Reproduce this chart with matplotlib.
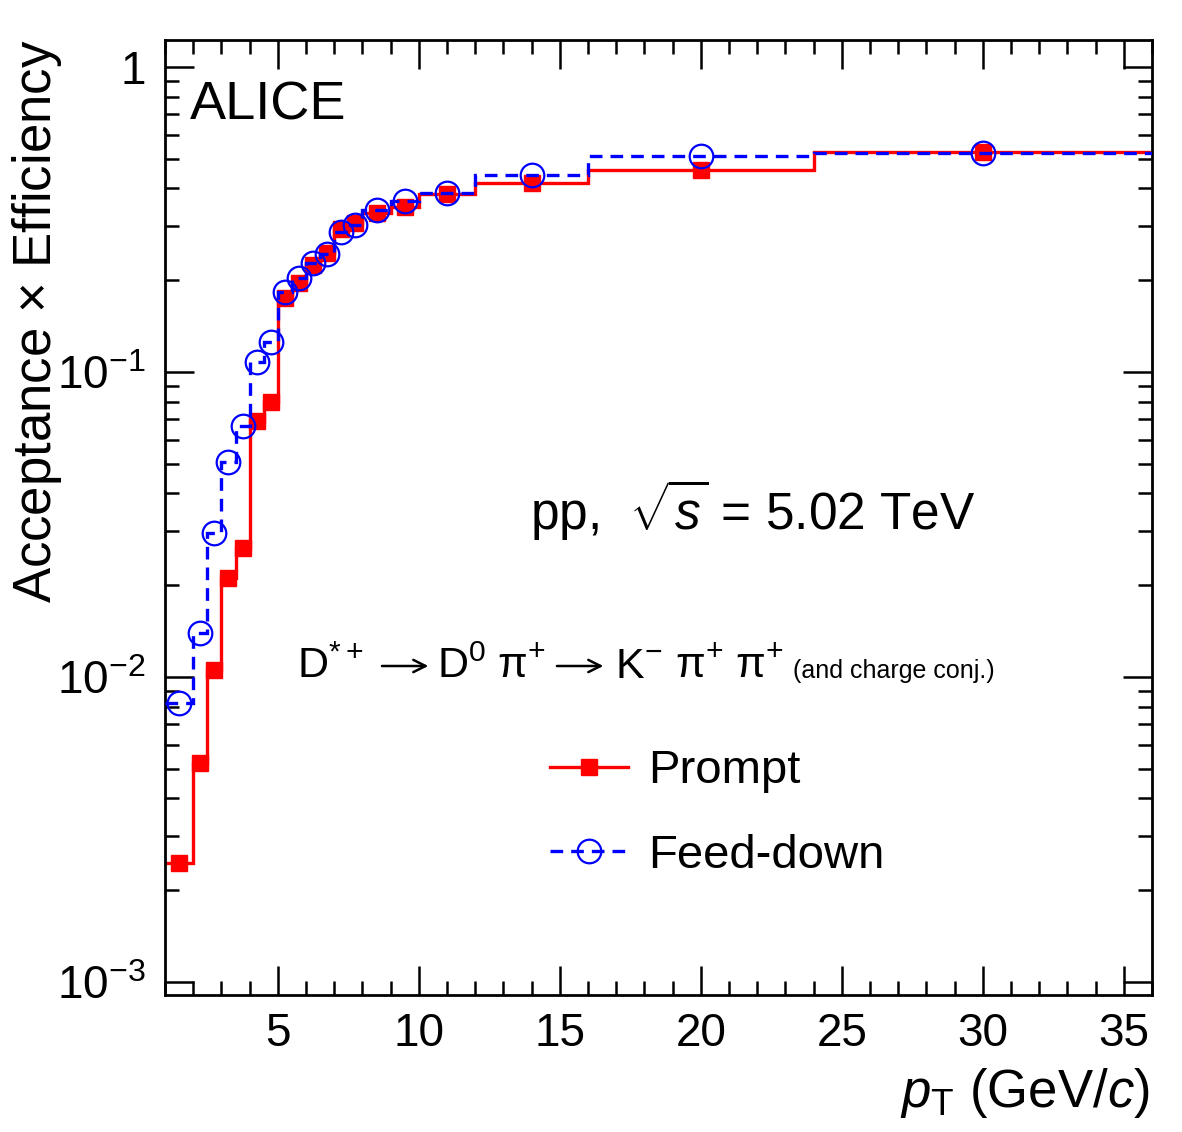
import numpy as np
import matplotlib
matplotlib.use("Agg")
import matplotlib.pyplot as plt
from matplotlib.ticker import FixedLocator, MultipleLocator, LogLocator, NullFormatter

plt.rcParams["font.family"] = ["Liberation Sans", "DejaVu Sans"]
plt.rcParams["mathtext.fontset"] = "custom"
plt.rcParams["mathtext.rm"] = "Liberation Sans"
plt.rcParams["mathtext.it"] = "Liberation Sans:italic"
plt.rcParams["mathtext.bf"] = "Liberation Sans:bold"

# pT bin edges (GeV/c) and acceptance x efficiency per bin
edges = [1, 2, 2.5, 3, 3.5, 4, 4.5, 5, 5.5, 6, 6.5, 7, 7.5, 8, 9, 10, 12, 16, 24, 36]
prompt = [0.00246, 0.00522, 0.0105, 0.0211, 0.0265, 0.069, 0.080, 0.175, 0.196,
          0.224, 0.245, 0.294, 0.308, 0.332, 0.347, 0.382, 0.417, 0.459, 0.526]
feeddown = [0.00822, 0.0139, 0.0297, 0.0507, 0.0665, 0.108, 0.125, 0.183, 0.203,
            0.228, 0.244, 0.288, 0.303, 0.340, 0.364, 0.387, 0.443, 0.511, 0.522]

edges = np.array(edges)
centers = 0.5 * (edges[:-1] + edges[1:])

fig = plt.figure(figsize=(11.82, 11.32), dpi=100)
ax = fig.add_axes([165 / 1182, 1 - 995 / 1132, 987 / 1182, 955 / 1132])

dash = (0, (3.8, 2.4))

ax.stairs(prompt, edges, baseline=None, color="red", lw=2.4)
ax.plot(centers, prompt, ls="none", marker="s", ms=11, color="red", zorder=3)

ax.stairs(feeddown, edges, baseline=None, color="blue", lw=2.4, ls=dash, zorder=4)
ax.plot(centers, feeddown, ls="none", marker="o", ms=17, mfc="none", mec="blue",
        mew=1.6, zorder=5)

ax.set_yscale("log")
ax.set_xlim(1, 36)
ax.set_ylim(0.000906, 1.226)

ax.xaxis.set_major_locator(MultipleLocator(5))
ax.xaxis.set_minor_locator(MultipleLocator(1))
ax.yaxis.set_major_locator(FixedLocator([1e-3, 1e-2, 1e-1, 1]))
ax.set_yticklabels([r"$10^{-3}$", r"$10^{-2}$", r"$10^{-1}$", "1"])
ax.yaxis.set_minor_locator(LogLocator(base=10, subs=np.arange(2, 10)))
ax.yaxis.set_minor_formatter(NullFormatter())

ax.tick_params(which="both", direction="in", top=True, right=True, width=1.8,
               labelsize=33)
ax.tick_params(axis="x", pad=12)
ax.tick_params(axis="y", pad=14)
ax.tick_params(which="major", length=21)
ax.tick_params(which="minor", length=10)
for s in ax.spines.values():
    s.set_linewidth(2)

ax.text(-0.157, 1.0, r"Acceptance $\times$ Efficiency", transform=ax.transAxes,
        rotation=90, ha="left", va="top", fontsize=38)
ax.text(0.998, -0.117, r"$p_{\mathrm{T}}$ (GeV/$c$)", transform=ax.transAxes,
        ha="right", va="baseline", fontsize=38)

ax.text(0.0253, 0.917, "ALICE", transform=ax.transAxes, fontsize=39, va="baseline")
ax.text(0.370, 0.487, r"pp,  $\sqrt{s}$ = 5.02 TeV", transform=ax.transAxes,
        fontsize=37, va="baseline")

# decay chain, written piece by piece
yb = 0.332
pieces = [(0.1337, r"D$^{*+}$"), (0.2756, r"D$^{0}$"), (0.3364, r"π$^{+}$"),
          (0.4559, r"K$^{-}$"), (0.5167, r"π$^{+}$"), (0.5775, r"π$^{+}$")]
for xp, s in pieces:
    ax.text(xp, yb, s, transform=ax.transAxes, fontsize=31, va="baseline")
for x0 in (0.2198, 0.3971):
    ax.annotate("", xy=(x0 + 0.047, 0.3445), xytext=(x0, 0.3445),
                xycoords="axes fraction",
                arrowprops=dict(arrowstyle="->", lw=1.8, color="black",
                                mutation_scale=22, shrinkA=0, shrinkB=0))
ax.text(0.636, yb, "(and charge conj.)", transform=ax.transAxes, fontsize=18,
        va="baseline")

h1, = ax.plot([], [], color="red", lw=2.4, marker="s", ms=11)
h2, = ax.plot([], [], color="blue", lw=2.4, ls=dash, marker="o", ms=17,
              mfc="none", mec="blue", mew=1.6)
ax.legend([h1, h2], ["Prompt", "Feed-down"], loc="center left",
          bbox_to_anchor=(0.390, 0.190), frameon=False, fontsize=34,
          handlelength=1.65, handletextpad=0.42, labelspacing=0.85,
          borderpad=0, borderaxespad=0)

fig.savefig("out.png", dpi=100)
